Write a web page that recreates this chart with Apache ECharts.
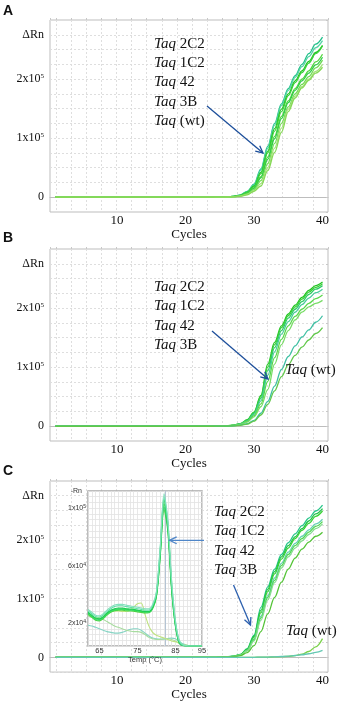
<!DOCTYPE html>
<html><head><meta charset="utf-8">
<script src="https://cdn.jsdelivr.net/npm/echarts@6/dist/echarts.min.js"></script>
<style>html,body{margin:0;padding:0;background:#fff}#c{width:340px;height:702px}</style>
</head><body><div id="c"></div>
<script>
// ---------- DATA ----------
const cycles = [1,5,10,15,20,24,25,26,27,28,29,30,31,32,33,34,35,36,37,38,39,40];

// Panel A amplification curves (ΔRn, units of 1e5)
const panelA = [
 [0,0,0,0,0,0,0.003,0.007,0.016,0.04,0.1,0.22,0.48,0.86,1.25,1.58,1.84,2.06,2.25,2.43,2.59,2.71],
 [0,0,0,0,0,0,0.003,0.007,0.015,0.037,0.095,0.21,0.46,0.83,1.22,1.55,1.81,2.03,2.21,2.38,2.53,2.65],
 [0,0,0,0,0,0,0.002,0.006,0.013,0.033,0.085,0.19,0.42,0.78,1.16,1.49,1.75,1.97,2.14,2.3,2.45,2.57],
 [0,0,0,0,0,0,0.002,0.006,0.013,0.031,0.08,0.18,0.4,0.75,1.12,1.45,1.72,1.94,2.11,2.27,2.43,2.56],
 [0,0,0,0,0,0,0.002,0.005,0.011,0.028,0.07,0.16,0.35,0.68,1.03,1.37,1.63,1.84,2.0,2.14,2.29,2.42],
 [0,0,0,0,0,0,0.002,0.005,0.01,0.026,0.065,0.15,0.33,0.64,0.99,1.33,1.6,1.81,1.97,2.1,2.24,2.37],
 [0,0,0,0,0,0,0.001,0.004,0.009,0.023,0.055,0.13,0.28,0.57,0.91,1.25,1.53,1.75,1.91,2.04,2.19,2.32],
 [0,0,0,0,0,0,0.001,0.003,0.008,0.02,0.047,0.11,0.23,0.5,0.83,1.17,1.49,1.71,1.87,2.0,2.13,2.25],
 [0,0,0,0,0,0,0.001,0.003,0.007,0.017,0.04,0.1,0.19,0.45,0.76,1.1,1.45,1.68,1.85,1.98,2.1,2.2]
];
// Panel B
const panelB = [
 [0,0,0,0,0,0,0.003,0.008,0.018,0.045,0.11,0.24,0.52,1.05,1.42,1.7,1.9,2.05,2.18,2.3,2.38,2.44],
 [0,0,0,0,0,0,0.003,0.007,0.017,0.042,0.1,0.23,0.5,1.0,1.38,1.67,1.87,2.02,2.15,2.27,2.35,2.41],
 [0,0,0,0,0,0,0.003,0.007,0.016,0.04,0.095,0.22,0.47,0.94,1.33,1.62,1.83,1.98,2.11,2.23,2.32,2.38],
 [0,0,0,0,0,0,0.002,0.006,0.014,0.036,0.085,0.2,0.43,0.86,1.26,1.56,1.77,1.93,2.06,2.17,2.26,2.32],
 [0,0,0,0,0,0,0.002,0.006,0.013,0.033,0.078,0.18,0.38,0.76,1.16,1.47,1.7,1.86,1.98,2.08,2.16,2.22],
 [0,0,0,0,0,0,0.002,0.005,0.012,0.03,0.07,0.16,0.33,0.62,1.05,1.38,1.62,1.8,1.93,2.02,2.08,2.13],
 [0,0,0,0,0,0,0.001,0.003,0.008,0.018,0.042,0.1,0.22,0.42,0.68,0.96,1.18,1.36,1.51,1.63,1.76,1.87],
 [0,0,0,0,0,0,0.001,0.003,0.007,0.016,0.036,0.085,0.19,0.37,0.6,0.84,1.04,1.2,1.34,1.46,1.57,1.67]
];
// Panel C
const panelC = [
 [0,0,0,0,0,0,0.004,0.01,0.022,0.05,0.15,0.38,0.85,1.2,1.5,1.75,1.95,2.1,2.24,2.37,2.49,2.59],
 [0,0,0,0,0,0,0.004,0.009,0.02,0.047,0.14,0.36,0.8,1.16,1.46,1.71,1.9,2.05,2.19,2.32,2.44,2.53],
 [0,0,0,0,0,0,0.003,0.009,0.019,0.044,0.13,0.34,0.76,1.12,1.42,1.67,1.86,2.02,2.16,2.28,2.4,2.49],
 [0,0,0,0,0,0,0.003,0.008,0.018,0.042,0.12,0.31,0.7,1.05,1.35,1.6,1.79,1.94,2.06,2.17,2.27,2.35],
 [0,0,0,0,0,0,0.003,0.008,0.017,0.04,0.115,0.3,0.67,1.02,1.31,1.56,1.75,1.9,2.02,2.13,2.23,2.31],
 [0,0,0,0,0,0,0.003,0.007,0.016,0.038,0.11,0.28,0.63,0.98,1.27,1.52,1.71,1.86,1.98,2.09,2.19,2.27],
 [0,0,0,0,0,0,0.002,0.006,0.013,0.03,0.08,0.2,0.44,0.74,1.02,1.28,1.5,1.69,1.84,1.96,2.06,2.13],
 [0,0,0,0,0,0,0,0,0,0,0,0.002,0.004,0.006,0.008,0.012,0.018,0.03,0.055,0.1,0.18,0.32],
 [0,0,0,0,0,0,0,0,0,0,0,0.002,0.004,0.006,0.01,0.015,0.022,0.032,0.045,0.062,0.085,0.12]
];

// Inset melt curves (-Rn, units of 1e4)
const meltTemps = [62,63,64,65,66,67,68,69,70,71,72,73,74,75,76,77,78,79,80,81,82,83,84,85,86,87,88,89,90,91,92];
const meltCurves = [
 [2.75,2.55,2.35,2.3,2.45,2.7,2.9,3.0,3.05,3.05,3.0,2.98,2.95,2.9,2.85,2.8,2.8,3.1,4.0,7.0,10.6,8.9,4.6,2.0,0.7,0.45,0.4,0.4,0.4,0.4,0.4],
 [2.65,2.45,2.25,2.2,2.35,2.6,2.8,2.9,2.95,2.95,2.92,2.9,2.88,2.84,2.8,2.75,2.75,3.05,3.9,6.8,10.3,8.7,4.5,1.9,0.65,0.45,0.4,0.4,0.4,0.4,0.4],
 [2.85,2.65,2.45,2.4,2.55,2.8,3.0,3.15,3.2,3.2,3.15,3.1,3.05,3.0,2.95,2.9,2.9,3.2,4.1,7.2,10.8,9.1,4.9,2.1,0.75,0.45,0.4,0.4,0.4,0.4,0.4],
 [2.7,2.5,2.3,2.25,2.4,2.65,2.85,2.95,3.0,3.0,2.96,2.93,2.9,2.86,2.82,2.78,2.78,3.05,3.85,6.7,10.1,8.6,4.4,1.8,0.6,0.42,0.4,0.4,0.4,0.4,0.4],
 [2.95,2.75,2.55,2.5,2.65,2.9,3.1,3.25,3.3,3.3,3.25,3.2,3.15,3.1,3.05,3.0,3.0,3.3,4.2,7.3,11.0,9.2,5.0,2.2,0.8,0.5,0.42,0.4,0.4,0.4,0.4],
 [2.6,2.4,2.2,2.15,2.3,2.55,2.75,2.85,2.9,2.9,2.86,2.84,2.82,2.78,2.74,2.7,2.72,3.0,3.8,6.6,9.9,8.4,4.3,1.8,0.6,0.42,0.4,0.4,0.4,0.4,0.4],
 [2.6,2.45,2.35,2.4,2.55,2.7,2.8,2.85,2.85,2.8,2.8,2.9,3.1,3.35,3.4,2.6,1.8,1.35,1.15,1.05,0.95,0.85,0.75,0.7,0.6,0.5,0.45,0.4,0.4,0.4,0.4],
 [2.5,2.4,2.35,2.3,2.25,2.1,1.95,1.8,1.7,1.6,1.5,1.45,1.4,1.4,1.35,1.2,1.0,0.9,0.85,0.85,0.9,0.9,0.85,0.75,0.6,0.5,0.45,0.42,0.4,0.4,0.4],
 [1.85,1.8,1.7,1.6,1.5,1.4,1.35,1.3,1.3,1.35,1.45,1.55,1.6,1.6,1.5,1.3,1.1,0.95,0.9,0.88,0.88,0.92,0.95,0.9,0.7,0.55,0.45,0.42,0.4,0.4,0.4]
];
const meltPeakTemp = 82.2;

// Tick labels
const xTickValues = [10,20,30,40];
const yTickValues = [0,1,2,2.75];
const yTickTexts = ['0','1x10^5','2x10^5','ΔRn'];
const meltXTickValues = [65,75,85,92];
const meltXTickTexts = ['65','75','85','95'];
const meltYTickValues = [2,6,10];
const meltYTickTexts = ['2x10^4','6x10^4','1x10^5'];

// Annotation texts
const annotA = ['2C2','1C2','42','3B','(wt)'];
const annotB = ['2C2','1C2','42','3B'];
const annotC = ['2C2','1C2','42','3B'];
const annotWt = '(wt)';
const panelLetters = ['A','B','C'];

// ---------- STYLE ----------
const colorsA = ['#22c08a','#55d4a6','#22c422','#3ad23a','#4fd63a','#30cc4a','#70dc55','#a4e27a','#86d856'];
const colorsB = ['#22c422','#3ad03a','#30cc66','#48cc9a','#58d84a','#78dc66','#40c0a4','#62c84a'];
const colorsC = ['#28c68a','#22c24a','#3ad236','#66d0b4','#50d850','#86dc90','#55c438','#7ad24a','#62c8b2'];
const colorsMelt = ['#1ed050','#3ade5e','#5ee0a8','#2cc474','#84e0bc','#4ed23e','#bfe27f','#a8dca0','#86d4c4'];

const SERIF = 'Liberation Serif';
const SANS = 'Liberation Sans';

function supFmt(t){ return t.replace(/\^(\d)/, '{s|$1}'); }

const grids = [
  {left:50, top:20, width:278, height:192},
  {left:50, top:249, width:278, height:192},
  {left:50, top:481, width:278, height:194}
];

const option = {
  animation:false,
  backgroundColor:'#fff',
  grid: grids.map(g => Object.assign({show:true, borderColor:'#bdbdbd', borderWidth:1, backgroundColor:'#fff', containLabel:false}, g))
        .concat([{left:88, top:491, width:114, height:155, show:true, borderColor:'#a8a8a8', borderWidth:1.5, backgroundColor:'#fff', z:3}]),
  xAxis: [],
  yAxis: [],
  series: [],
  graphic: []
};

for (let i=0;i<3;i++){
  option.xAxis.push({
    gridIndex:i, type:'value', min:0.2, max:40.8,
    axisLine:{show:true, lineStyle:{color:'#bdbdbd'}},
    axisTick:{show:false}, splitLine:{show:false},
    axisLabel:{customValues:xTickValues, formatter:v=>String(v), fontFamily:SERIF, fontSize:13, color:'#111', margin:2},
    name:'Cycles', nameLocation:'middle', nameGap:13,
    nameTextStyle:{fontFamily:SERIF, fontSize:13, color:'#111'}
  });
  option.yAxis.push({
    gridIndex:i, type:'value', min:-0.25, max:3, interval:0.25,
    axisLine:{show:false},
    axisTick:{show:true, length:2, lineStyle:{color:'#c8c8c8'}},
    splitLine:{show:true, lineStyle:{color:'#dedede', type:[2,2], width:1}},
    axisLabel:{
      customValues:yTickValues,
      formatter:v=>{const k=yTickValues.indexOf(v); return k<0?'':supFmt(yTickTexts[k]);},
      fontFamily:SERIF, fontSize:12, color:'#111', margin:6, lineHeight:12,
      rich:{s:{fontFamily:SERIF, fontSize:7, color:'#111', verticalAlign:'top', lineHeight:12}}
    }
  });
}
for (let i=0;i<3;i++){
  option.xAxis.push({
    gridIndex:i, type:'value', min:0, max:18.4, interval:1, inverse:true,
    axisLine:{show:false}, axisLabel:{show:false},
    axisTick:{show:true, length:2, inside:false, lineStyle:{color:'#c8c8c8'}},
    splitLine:{show:true, lineStyle:{color:'#dedede', type:[2,2], width:1}}
  });
}
option.xAxis.push({
  gridIndex:3, type:'value', min:62, max:92, interval:1, z:4,
  axisLine:{show:false}, axisTick:{show:false},
  splitLine:{show:true, lineStyle:{color:'#e2e2e2', width:0.8}},
  axisLabel:{customValues:meltXTickValues, formatter:v=>{const k=meltXTickValues.indexOf(v);return k<0?'':meltXTickTexts[k];},
    fontFamily:SANS, fontSize:7.5, color:'#333', margin:1},
  name:'Temp (°C)', nameLocation:'middle', nameGap:8,
  nameTextStyle:{fontFamily:SANS, fontSize:7.5, color:'#333'}
});
option.yAxis.push({
  gridIndex:3, type:'value', min:0.4, max:11.2, interval:0.4, z:4,
  axisLine:{show:false}, axisTick:{show:false},
  splitLine:{show:true, lineStyle:{color:'#e2e2e2', width:0.8}},
  axisLabel:{customValues:meltYTickValues,
    formatter:v=>{const k=meltYTickValues.indexOf(v);return k<0?'':supFmt(meltYTickTexts[k]);},
    fontFamily:SANS, fontSize:7, color:'#333', margin:2, lineHeight:8,
    rich:{s:{fontFamily:SANS, fontSize:5, color:'#333', verticalAlign:'top', lineHeight:8}}},
  name:'-Rn', nameLocation:'end', nameGap:0,
  nameTextStyle:{fontFamily:SANS, fontSize:7, color:'#333', align:'right', verticalAlign:'middle', padding:[0,6,4,0]}
});

function addAmp(panel, colors, idx){
  panel.forEach((vals,k)=>{
    option.series.push({
      type:'line', xAxisIndex:idx, yAxisIndex:idx, showSymbol:false, symbol:'none',
      smooth:0.35, smoothMonotone:'x',
      lineStyle:{width:1.3, color:colors[k%colors.length]},
      data: cycles.map((c,j)=>[c, vals[j]])
    });
  });
}
addAmp(panelA, colorsA, 0);
addAmp(panelB, colorsB, 1);
addAmp(panelC, colorsC, 2);

const meltOrder = [8,7,6,5,3,1,0,2,4];
meltOrder.forEach((k,n)=>{
  const s = {
    type:'line', xAxisIndex:6, yAxisIndex:3, showSymbol:false, symbol:'none', z:5,
    smooth:0.3, lineStyle:{width:1.1, color:colorsMelt[k]},
    data: meltTemps.map((t,j)=>[t, meltCurves[k][j]])
  };
  if (n===0){
    s.markLine = {silent:true, symbol:'none', label:{show:false}, z:4,
      lineStyle:{color:'#b4c4d4', width:1, type:'solid'}, data:[{xAxis:meltPeakTemp}]};
  }
  option.series.push(s);
});

function taqText(x, y, suffix){
  return {type:'text', x:x, y:y, z:100, style:{
    text:'{i|Taq} '+suffix, fontFamily:SERIF, fontSize:15, fill:'#111', verticalAlign:'middle',
    rich:{i:{fontFamily:SERIF, fontSize:15, fontStyle:'italic', fill:'#111'}}
  }};
}
function arrow(x1,y1,x2,y2,color){
  const ang=Math.atan2(y2-y1,x2-x1), L=8, a=0.45;
  const p1=[x2-L*Math.cos(ang-a), y2-L*Math.sin(ang-a)];
  const p2=[x2-L*Math.cos(ang+a), y2-L*Math.sin(ang+a)];
  return [
    {type:'line', z:100, shape:{x1,y1,x2,y2}, style:{stroke:color, lineWidth:1.3}},
    {type:'polyline', z:100, shape:{points:[p1,[x2,y2],p2]}, style:{stroke:color, lineWidth:1.3, fill:null}}
  ];
}
const g = option.graphic;
const lineYA = [44.3, 63.3, 81.9, 101.9, 121.5];
annotA.forEach((t,k)=>g.push(taqText(154, lineYA[k], t)));
const lineYB = [287.3, 306.5, 325.7, 345];
annotB.forEach((t,k)=>g.push(taqText(154, lineYB[k], t)));
g.push(taqText(285, 369.7, annotWt));
const lineYC = [512.3, 531.5, 551, 570.3];
annotC.forEach((t,k)=>g.push(taqText(214, lineYC[k], t)));
g.push(taqText(286, 631.3, annotWt));
g.push(...arrow(207, 106, 263, 153, '#1d4f9b'));
g.push(...arrow(212, 331, 268, 379, '#1d4f9b'));
g.push(...arrow(204, 540.3, 169.5, 540.3, '#4f86c8'));
g.push(...arrow(233.5, 585, 250.5, 625, '#2d60ae'));
const letterY = [4, 231, 464];
panelLetters.forEach((t,k)=>g.push({type:'text', x:3, y:letterY[k], z:100,
  style:{text:t, fontFamily:SANS, fontSize:14, fontWeight:'bold', fill:'#111'}}));

const chart = echarts.init(document.getElementById('c'), null, {renderer:'canvas'});
chart.setOption(option);
</script>
</body></html>
